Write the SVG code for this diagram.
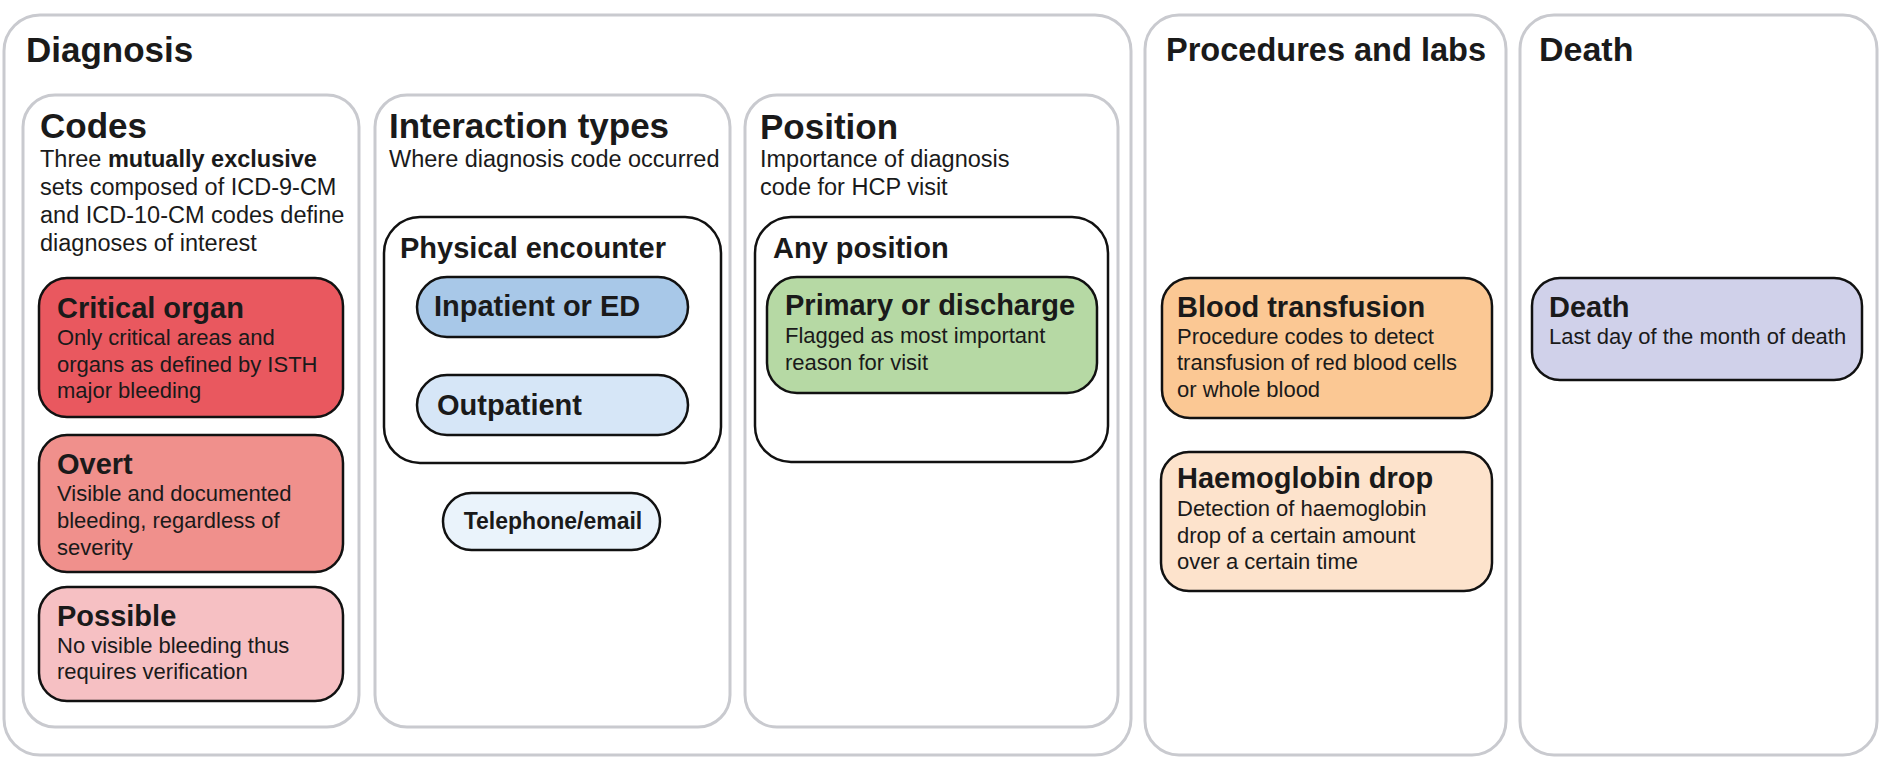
<svg xmlns="http://www.w3.org/2000/svg" width="1883" height="766" viewBox="0 0 1883 766">
<style>
text{font-family:"Liberation Sans",Arial,Helvetica,sans-serif;fill:#1a1a1a}
.panel{fill:#fff;stroke:#c9cacf;stroke-width:3}
.node{stroke:#111;stroke-width:2.5}
.group{fill:#fff;stroke:#111;stroke-width:2.5}
.h1{font-size:35px;font-weight:bold}
.h2{font-size:34px;font-weight:bold}
.desc{font-size:23.5px}
.nt{font-size:29px;font-weight:bold}
.nd{font-size:22px}
</style>
<rect width="1883" height="766" fill="#fff"/>
<g id="diagnosis">
<rect class="panel" x="4" y="15" width="1127" height="740" rx="36"/>
<text class="h1" x="26" y="62">Diagnosis</text>
</g>
<g id="codes">
<rect class="panel" x="23" y="95" width="336" height="632" rx="32"/>
<text class="h1" x="40" y="138">Codes</text>
<text class="desc" x="40" y="167">Three <tspan font-weight="bold">mutually exclusive</tspan></text>
<text class="desc" x="40" y="195">sets composed of ICD-9-CM</text>
<text class="desc" x="40" y="223">and ICD-10-CM codes define</text>
<text class="desc" x="40" y="251">diagnoses of interest</text>
</g>
<g id="critical-organ">
<rect class="node" x="39" y="278" width="304" height="139" rx="28" fill="#e9585f"/>
<text class="nt" x="57" y="318">Critical organ</text>
<text class="nd" x="57" y="345">Only critical areas and</text>
<text class="nd" x="57" y="372">organs as defined by ISTH</text>
<text class="nd" x="57" y="398">major bleeding</text>
</g>
<g id="overt">
<rect class="node" x="39" y="435" width="304" height="137" rx="28" fill="#f0908c"/>
<text class="nt" x="57" y="474">Overt</text>
<text class="nd" x="57" y="501">Visible and documented</text>
<text class="nd" x="57" y="528">bleeding, regardless of</text>
<text class="nd" x="57" y="555">severity</text>
</g>
<g id="possible">
<rect class="node" x="39" y="587" width="304" height="114" rx="28" fill="#f6c0c3"/>
<text class="nt" x="57" y="626">Possible</text>
<text class="nd" x="57" y="653">No visible bleeding thus</text>
<text class="nd" x="57" y="679">requires verification</text>
</g>
<g id="interaction-types">
<rect class="panel" x="375" y="95" width="355" height="632" rx="32"/>
<text class="h1" x="389" y="138">Interaction types</text>
<text class="desc" x="389" y="167">Where diagnosis code occurred</text>
</g>
<g id="physical-encounter">
<rect class="group" x="384" y="217" width="337" height="246" rx="36"/>
<text class="nt" x="400" y="258">Physical encounter</text>
</g>
<g id="inpatient">
<rect class="node" x="417" y="277" width="271" height="60" rx="30" fill="#a8c8e8"/>
<text class="nt" x="434" y="316">Inpatient or ED</text>
</g>
<g id="outpatient">
<rect class="node" x="417" y="375" width="271" height="60" rx="30" fill="#d6e6f7"/>
<text class="nt" x="437" y="415">Outpatient</text>
</g>
<g id="telephone">
<rect class="node" x="443" y="493" width="217" height="57" rx="28.5" fill="#eaf3fb"/>
<text x="553" y="529" text-anchor="middle" font-size="23" font-weight="bold">Telephone/email</text>
</g>
<g id="position">
<rect class="panel" x="745" y="95" width="373" height="632" rx="32"/>
<text class="h1" x="760" y="139">Position</text>
<text class="desc" x="760" y="167">Importance of diagnosis</text>
<text class="desc" x="760" y="195">code for HCP visit</text>
</g>
<g id="any-position">
<rect class="group" x="755" y="217" width="353" height="245" rx="36"/>
<text class="nt" x="773" y="258">Any position</text>
</g>
<g id="primary">
<rect class="node" x="767" y="277" width="330" height="116" rx="30" fill="#b6d9a4"/>
<text class="nt" x="785" y="315">Primary or discharge</text>
<text class="nd" x="785" y="343">Flagged as most important</text>
<text class="nd" x="785" y="370">reason for visit</text>
</g>
<g id="procedures">
<rect class="panel" x="1145" y="15" width="361" height="740" rx="34"/>
<text class="h2" x="1166" y="61" textLength="320" lengthAdjust="spacingAndGlyphs">Procedures and labs</text>
</g>
<g id="blood-transfusion">
<rect class="node" x="1162" y="278" width="330" height="140" rx="28" fill="#fbc894"/>
<text class="nt" x="1177" y="317">Blood transfusion</text>
<text class="nd" x="1177" y="344">Procedure codes to detect</text>
<text class="nd" x="1177" y="370">transfusion of red blood cells</text>
<text class="nd" x="1177" y="397">or whole blood</text>
</g>
<g id="haemoglobin">
<rect class="node" x="1161" y="452" width="331" height="139" rx="28" fill="#fde3cc"/>
<text class="nt" x="1177" y="488">Haemoglobin drop</text>
<text class="nd" x="1177" y="516">Detection of haemoglobin</text>
<text class="nd" x="1177" y="543">drop of a certain amount</text>
<text class="nd" x="1177" y="569">over a certain time</text>
</g>
<g id="death-panel">
<rect class="panel" x="1520" y="15" width="357" height="740" rx="34"/>
<text class="h2" x="1539" y="61">Death</text>
</g>
<g id="death">
<rect class="node" x="1532" y="278" width="330" height="102" rx="28" fill="#d0d1ea"/>
<text class="nt" x="1549" y="317">Death</text>
<text class="nd" x="1549" y="344">Last day of the month of death</text>
</g>
<g id="connectors"></g>
</svg>
